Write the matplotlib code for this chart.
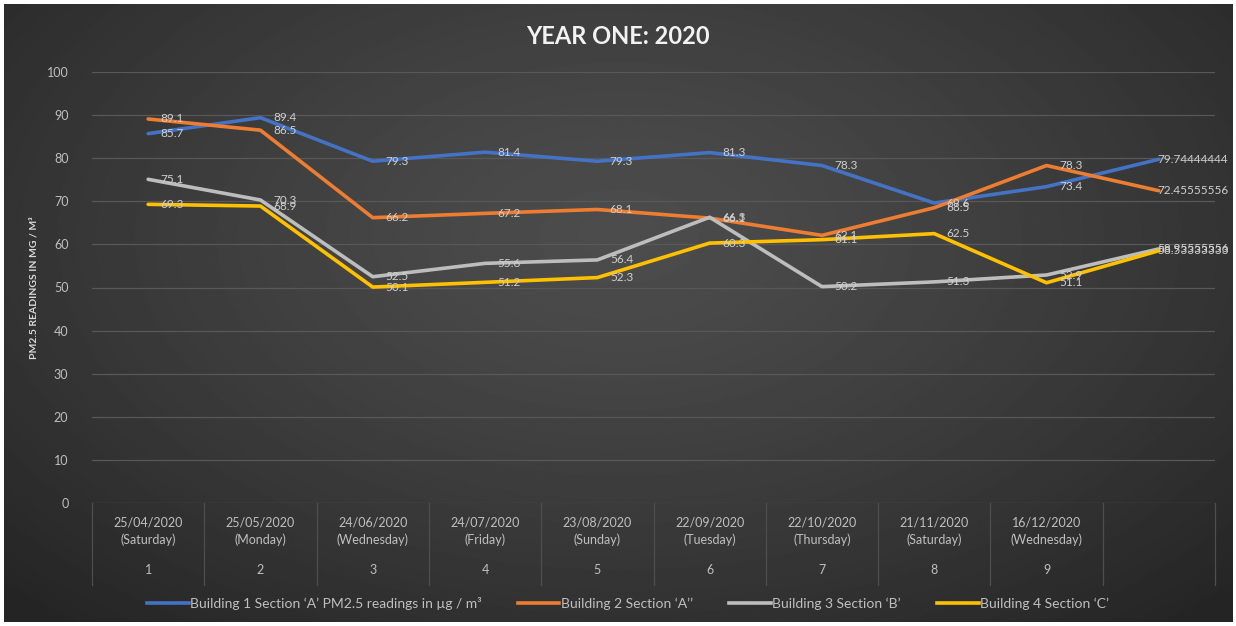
import numpy as np
import matplotlib
matplotlib.use("Agg")
import matplotlib.pyplot as plt
from matplotlib.transforms import blended_transform_factory
from matplotlib.lines import Line2D

plt.rcParams['font.family'] = ['Lato', 'DejaVu Sans']

# Sampling dates (first level of the category axis) and sample numbers (second level)
dates = ["25/04/2020", "25/05/2020", "24/06/2020", "24/07/2020", "23/08/2020",
         "22/09/2020", "22/10/2020", "21/11/2020", "16/12/2020", ""]
weekdays = ["(Saturday)", "(Monday)", "(Wednesday)", "(Friday)", "(Sunday)",
            "(Tuesday)", "(Thursday)", "(Saturday)", "(Wednesday)", ""]
sample_numbers = ["1", "2", "3", "4", "5", "6", "7", "8", "9", ""]

# PM2.5 readings per building; the last entry is the yearly average
building1 = [85.7, 89.4, 79.3, 81.4, 79.3, 81.3, 78.3, 69.6, 73.4, 79.74444444]
building2 = [89.1, 86.5, 66.2, 67.2, 68.1, 66.1, 62.1, 68.5, 78.3, 72.45555556]
building3 = [75.1, 70.3, 52.5, 55.6, 56.4, 66.3, 50.2, 51.3, 52.9, 58.95555556]
building4 = [69.3, 68.9, 50.1, 51.2, 52.3, 60.3, 61.1, 62.5, 51.1, 58.53333333]

series_names = ["Building 1 Section \u2018A\u2019 PM2.5 readings in \u00b5g / m\u00b3",
                "Building 2 Section \u2018A\u2019\u2019",
                "Building 3 Section \u2018B\u2019",
                "Building 4 Section \u2018C\u2019"]
series_values = [building1, building2, building3, building4]
series_colors = ["#4472C4", "#ED7D31", "#BDBDBD", "#FFC000"]

W, H, DPI = 1236, 626, 100
fig = plt.figure(figsize=(W / DPI, H / DPI), dpi=DPI, facecolor="white")

# Dark radial-gradient chart background
bg = fig.add_axes([0.003, 0.006, 0.994, 0.987])
bg.set_axis_off()
yy, xx = np.mgrid[0:400, 0:800]
cx, cy = 400, 150
d = np.sqrt(((xx - cx) / 560.0) ** 2 + ((yy - cy) / 330.0) ** 2)
d = np.clip(d, 0, 1)
inner, outer = 0.30, 0.145
shade = inner + (outer - inner) * d ** 1.3
bg.imshow(shade, cmap="gray", vmin=0, vmax=1, aspect="auto",
          extent=[0, 1, 0, 1], interpolation="bilinear")
bg.set_xlim(0, 1)
bg.set_ylim(0, 1)

left, right = 92 / W, 1215 / W
top, bottom = 1 - 72 / H, 1 - 503 / H
ax = fig.add_axes([left, bottom, right - left, top - bottom])
ax.patch.set_alpha(0)

x = np.arange(len(dates))
for vals, col in zip(series_values, series_colors):
    ax.plot(x, vals, color=col, lw=2.6, solid_joinstyle="round",
            solid_capstyle="round", zorder=3)

# Data labels to the right of each point; the averages sit tight to keep inside the chart
last = len(dates) - 1
for vals in series_values:
    for xi, v in zip(x, vals):
        dx = -1 if xi == last else 9
        ax.annotate(f"{v:.10g}", (xi, v), xytext=(dx, 0), textcoords="offset points",
                    ha="left", va="center", fontsize=8.5, color="#D0D0D0", zorder=4)

ax.set_xlim(-0.5, len(dates) - 0.5)
ax.set_ylim(0, 100)
ax.set_yticks(np.arange(0, 101, 10))
ax.yaxis.grid(True, color="#585858", lw=0.9)
ax.set_axisbelow(True)
for s in ax.spines.values():
    s.set_visible(False)
ax.tick_params(axis="y", length=0, pad=17, labelsize=9, labelcolor="#BFBFBF")

ax.set_xticks(x)
ax.set_xticklabels([f"{d_}\n{w}" for d_, w in zip(dates, weekdays)],
                   fontsize=9, color="#BFBFBF", linespacing=1.45)
ax.tick_params(axis="x", length=0, pad=10)

trans = blended_transform_factory(ax.transData, ax.transAxes)
for xi, n in zip(x, sample_numbers):
    ax.text(xi, -0.155, n, transform=trans, ha="center", va="center",
            fontsize=9, color="#BFBFBF")
# Category separators for the two-level axis
for b in np.arange(-0.5, len(dates), 1.0):
    ax.plot([b, b], [0, -0.19], transform=trans, color="#4E4E4E", lw=0.9,
            clip_on=False, zorder=1)

ax.set_ylabel("PM2.5 READINGS IN MG / M\u00b3", fontsize=7.5, fontweight="bold",
              color="#D9D9D9")
ax.yaxis.set_label_coords(-0.048, 0.5)

fig.text(0.5, 1 - 36 / H, "YEAR ONE: 2020", ha="center", va="center",
         fontsize=17, fontweight="bold", color="#F2F2F2")

handles = [Line2D([0], [0], color=c, lw=2.6) for c in series_colors]
leg = fig.legend(handles, series_names, loc="center", bbox_to_anchor=(0.508, 1 - 603 / H),
                 ncol=4, frameon=False, fontsize=10, handlelength=3.0,
                 handletextpad=0.1, columnspacing=2.6, labelcolor="#BFBFBF")

fig.savefig("out.png", dpi=DPI, facecolor="white")
